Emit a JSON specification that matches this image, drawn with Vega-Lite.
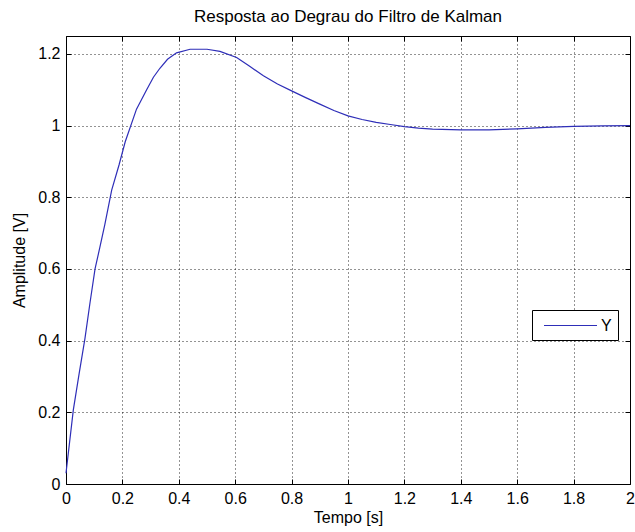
{
  "$schema": "https://vega.github.io/schema/vega-lite/v6.json",
  "width": 564,
  "height": 448,
  "autosize": {"type": "none"},
  "padding": {"left": 66, "top": 36, "right": 5, "bottom": 48},
  "background": "white",
  "title": {
    "text": "Resposta ao Degrau do Filtro de Kalman",
    "font": "Liberation Sans",
    "fontSize": 17,
    "fontWeight": "normal",
    "color": "black",
    "anchor": "middle",
    "offset": 10
  },
  "config": {
    "view": {"stroke": "black", "strokeWidth": 1},
    "axis": {
      "domain": false,
      "grid": true,
      "gridColor": "black",
      "gridDash": [1, 3],
      "gridOpacity": 0.85,
      "gridWidth": 1,
      "tickColor": "black",
      "tickSize": -5,
      "tickWidth": 1,
      "labelFont": "Liberation Sans",
      "labelFontSize": 16,
      "labelColor": "black",
      "labelFlush": false,
      "labelOverlap": false,
      "titleFont": "Liberation Sans",
      "titleFontSize": 16,
      "titleFontWeight": "normal",
      "titleColor": "black"
    }
  },
  "data": {
    "values": [
      {"t": 0, "v": 0.03, "series": "Y"},
      {"t": 0.026, "v": 0.207, "series": "Y"},
      {"t": 0.047, "v": 0.31, "series": "Y"},
      {"t": 0.067, "v": 0.405, "series": "Y"},
      {"t": 0.085, "v": 0.505, "series": "Y"},
      {"t": 0.103, "v": 0.6, "series": "Y"},
      {"t": 0.12, "v": 0.66, "series": "Y"},
      {"t": 0.138, "v": 0.725, "series": "Y"},
      {"t": 0.162, "v": 0.82, "series": "Y"},
      {"t": 0.188, "v": 0.89, "series": "Y"},
      {"t": 0.21, "v": 0.955, "series": "Y"},
      {"t": 0.25, "v": 1.046, "series": "Y"},
      {"t": 0.286, "v": 1.1, "series": "Y"},
      {"t": 0.31, "v": 1.135, "series": "Y"},
      {"t": 0.333, "v": 1.16, "series": "Y"},
      {"t": 0.36, "v": 1.185, "series": "Y"},
      {"t": 0.392, "v": 1.203, "series": "Y"},
      {"t": 0.44, "v": 1.213, "series": "Y"},
      {"t": 0.5, "v": 1.213, "series": "Y"},
      {"t": 0.546, "v": 1.207, "series": "Y"},
      {"t": 0.605, "v": 1.19, "series": "Y"},
      {"t": 0.65, "v": 1.166, "series": "Y"},
      {"t": 0.7, "v": 1.139, "series": "Y"},
      {"t": 0.75, "v": 1.116, "series": "Y"},
      {"t": 0.8, "v": 1.097, "series": "Y"},
      {"t": 0.85, "v": 1.078, "series": "Y"},
      {"t": 0.9, "v": 1.06, "series": "Y"},
      {"t": 0.95, "v": 1.042, "series": "Y"},
      {"t": 1.0, "v": 1.027, "series": "Y"},
      {"t": 1.05, "v": 1.017, "series": "Y"},
      {"t": 1.1, "v": 1.009, "series": "Y"},
      {"t": 1.15, "v": 1.003, "series": "Y"},
      {"t": 1.2, "v": 0.997, "series": "Y"},
      {"t": 1.25, "v": 0.993, "series": "Y"},
      {"t": 1.3, "v": 0.99, "series": "Y"},
      {"t": 1.4, "v": 0.988, "series": "Y"},
      {"t": 1.5, "v": 0.988, "series": "Y"},
      {"t": 1.6, "v": 0.991, "series": "Y"},
      {"t": 1.7, "v": 0.995, "series": "Y"},
      {"t": 1.8, "v": 0.998, "series": "Y"},
      {"t": 1.9, "v": 0.999, "series": "Y"},
      {"t": 2.0, "v": 1.0, "series": "Y"}
    ]
  },
  "layer": [
    {
      "mark": {"type": "line", "strokeWidth": 1.2},
      "encoding": {
        "x": {
          "field": "t",
          "type": "quantitative",
          "scale": {"domain": [0, 2], "nice": false, "zero": false},
          "axis": {
            "orient": "bottom",
            "values": [0, 0.2, 0.4, 0.6, 0.8, 1, 1.2, 1.4, 1.6, 1.8, 2],
            "format": "~g",
            "labelPadding": 11,
            "title": "Tempo [s]",
            "titlePadding": 3
          }
        },
        "y": {
          "field": "v",
          "type": "quantitative",
          "scale": {"domain": [0, 1.25], "nice": false, "zero": false},
          "axis": {
            "orient": "left",
            "values": [0, 0.2, 0.4, 0.6, 0.8, 1, 1.2],
            "format": "~g",
            "labelPadding": 11,
            "title": "Amplitude [V]",
            "titlePadding": 10
          }
        },
        "color": {
          "field": "series",
          "type": "nominal",
          "scale": {"range": ["#2e2eb8"]},
          "legend": {
            "title": null,
            "orient": "none",
            "legendX": 466,
            "legendY": 274,
            "symbolType": "M-3,0H3",
            "symbolSize": 312,
            "symbolOffset": 23,
            "symbolStrokeWidth": 1.2,
            "labelFont": "Liberation Sans",
            "labelFontSize": 16,
            "labelColor": "black",
            "labelOffset": 21,
            "strokeColor": "black",
            "fillColor": "white",
            "padding": 6
          }
        }
      }
    },
    {
      "mark": {"type": "line", "strokeOpacity": 0},
      "encoding": {
        "x": {
          "field": "t",
          "type": "quantitative",
          "axis": {
            "orient": "top",
            "values": [0, 0.2, 0.4, 0.6, 0.8, 1, 1.2, 1.4, 1.6, 1.8, 2],
            "labels": false,
            "grid": false,
            "title": null
          }
        },
        "y": {
          "field": "v",
          "type": "quantitative",
          "axis": {
            "orient": "right",
            "values": [0, 0.2, 0.4, 0.6, 0.8, 1, 1.2],
            "labels": false,
            "grid": false,
            "title": null
          }
        }
      }
    }
  ]
}
